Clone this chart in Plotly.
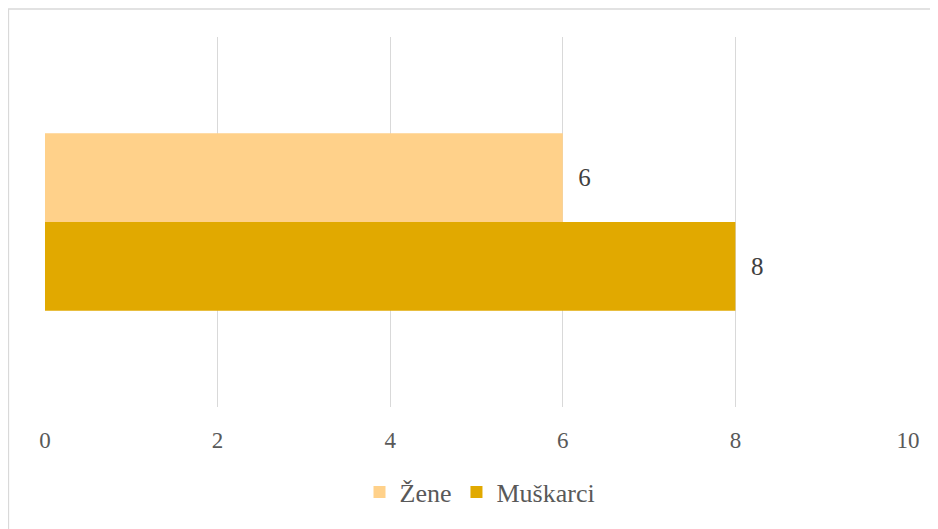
import plotly.graph_objects as go

categories = [""]
series_names = ["Žene", "Muškarci"]
zene_values = [6]
muskarci_values = [8]
tick_vals = [0, 2, 4, 6, 8, 10]
colors = ["#FFD18A", "#E1A900"]

FONT = "Liberation Serif"

fig = go.Figure()
for name, vals, col in zip(series_names, [zene_values, muskarci_values], colors):
    fig.add_trace(go.Bar(
        y=categories, x=vals, name=name, orientation="h",
        marker=dict(color=col, line=dict(width=0)),
        text=vals, texttemplate="  %{x}", textposition="outside",
        textfont=dict(family=FONT, size=25, color="#404040"),
        cliponaxis=False,
    ))

# page has an 8px body margin; figure coords = screen coords - 8
W, H = 938, 529
L, T = 37, 29
pw, ph = 863, 370
R, B = W - L - pw, H - T - ph

def px_x(x):
    return (x - L) / pw

def px_y(y):
    return (T + ph - y) / ph

fig.update_layout(
    width=W, height=H,
    margin=dict(l=L, r=R, t=T, b=B),
    paper_bgcolor="white", plot_bgcolor="white",
    barmode="group", bargap=0.52, bargroupgap=0,
    font=dict(family=FONT, size=23, color="#595959"),
    xaxis=dict(range=[0, 10], tickvals=tick_vals, showgrid=True,
               gridcolor="#D9D9D9", gridwidth=1.3, zeroline=False,
               showline=False, ticks="outside", ticklen=12,
               tickcolor="rgba(0,0,0,0)",
               tickfont=dict(family=FONT, size=23, color="#595959")),
    yaxis=dict(autorange="reversed", showticklabels=False, showgrid=False,
               zeroline=False, showline=False),
    legend=dict(orientation="h", x=px_x(472), xanchor="center",
                y=px_y(484), yanchor="middle",
                font=dict(family=FONT, size=26, color="#595959"),
                itemwidth=30, traceorder="normal"),
    showlegend=True,
    shapes=[dict(type="rect", xref="paper", yref="paper",
                 x0=px_x(0.5), x1=px_x(W + 5), y0=px_y(H + 5), y1=px_y(1),
                 line=dict(color="#D9D9D9", width=1.3), fillcolor="rgba(0,0,0,0)",
                 layer="below")],
)

fig.write_html("out.html")
